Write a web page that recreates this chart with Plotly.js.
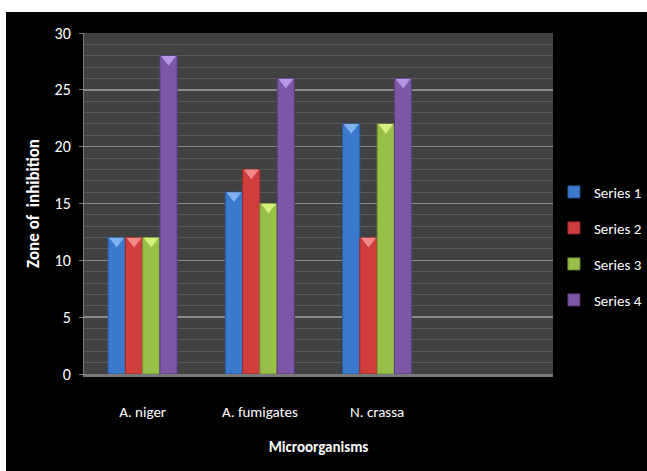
<!DOCTYPE html>
<html>
<head>
<meta charset="utf-8">
<script src="https://cdn.plot.ly/plotly-3.0.1.min.js"></script>
<style>
  html, body { margin: 0; padding: 0; background: #ffffff; }
  #chart { position: absolute; left: 6px; top: 12px; width: 641px; height: 459px; }
</style>
</head>
<body>
<div id="chart"></div>
<script>
// Zone of inhibition per microorganism, four series
const categories = ['A. niger', 'A. fumigates', 'N. crassa', ' '];
const series1 = [12, 16, 22, null];
const series2 = [12, 18, 12, null];
const series3 = [12, 15, 22, null];
const series4 = [28, 26, 26, null];
const seriesNames = ['Series 1', 'Series 2', 'Series 3', 'Series 4'];
const yTicks = [0, 5, 10, 15, 20, 25, 30];

const seriesValues = [series1, series2, series3, series4];
const fills = ['#3b79cc', '#cf3d3d', '#98c049', '#7c57a6'];
const edges = ['#2a5a9c', '#9c2a2a', '#6f8f30', '#573b7c'];
const caps = ['#7fb2ee', '#f08a8a', '#d6f07e', '#b596e0'];
const FONT = 'Carlito, Calibri, "Liberation Sans Narrow", "Open Sans", sans-serif';
const GAP = 0.41;

const traces = [];
seriesValues.forEach((vals, i) => {
  traces.push({
    type: 'bar',
    name: seriesNames[i],
    x: categories,
    y: vals,
    offsetgroup: String(i),
    legendgroup: 'g' + i,
    marker: { color: fills[i], line: { color: edges[i], width: 1 } },
    hoverinfo: 'x+y+name'
  });
});
// bevelled caps on the top of each column
seriesValues.forEach((vals, i) => {
  traces.push({
    type: 'scatter',
    mode: 'markers',
    x: categories,
    y: vals.map(v => (v === null ? null : v - 0.3)),
    offsetgroup: String(i),
    showlegend: false,
    hoverinfo: 'skip',
    marker: { symbol: 'triangle-down', size: 13, color: caps[i], line: { width: 0 } }
  });
});

const layout = {
  width: 641,
  height: 459,
  paper_bgcolor: '#000000',
  plot_bgcolor: '#414141',
  margin: { l: 78, r: 94, t: 21, b: 97, autoexpand: false },
  barmode: 'group',
  scattermode: 'group',
  bargap: GAP,
  scattergap: GAP,
  bargroupgap: 0,
  font: { family: FONT, color: '#ffffff', size: 15 },
  showlegend: true,
  legend: {
    x: 1.002, xanchor: 'left',
    y: 0.375, yanchor: 'middle',
    font: { family: FONT, size: 15, color: '#ffffff' },
    bgcolor: 'rgba(0,0,0,0)',
    traceorder: 'grouped',
    tracegroupgap: 13.5,
    itemwidth: 30
  },
  xaxis: {
    type: 'category',
    categoryorder: 'array',
    categoryarray: categories,
    showgrid: false,
    showline: true,
    linecolor: '#7a7a7a',
    linewidth: 3,
    ticks: '',
    ticklabelstandoff: 22,
    tickfont: { family: FONT, size: 15, color: '#ffffff' },
    title: { text: '<b>Microorganisms</b>', font: { family: FONT, size: 15, color: '#ffffff' }, standoff: 22 },
    fixedrange: true
  },
  yaxis: {
    range: [0, 30],
    tickvals: yTicks,
    ticktext: yTicks.map(String),
    showgrid: true,
    gridcolor: '#8a8a8a',
    gridwidth: 1.5,
    minor: { dtick: 1, showgrid: true, gridcolor: '#5a5a5a', gridwidth: 1, ticks: '' },
    showline: true,
    linecolor: '#7a7a7a',
    linewidth: 1,
    ticks: 'outside',
    ticklen: 4,
    tickcolor: '#7a7a7a',
    ticklabelstandoff: 5,
    tickfont: { family: FONT, size: 16, color: '#ffffff' },
    zeroline: false,
    title: { text: '<b>Zone of  inhibition</b>', font: { family: FONT, size: 17, color: '#ffffff' }, standoff: 10 },
    fixedrange: true
  }
};

Plotly.newPlot('chart', traces, layout, { displayModeBar: false, staticPlot: true });
</script>
</body>
</html>
